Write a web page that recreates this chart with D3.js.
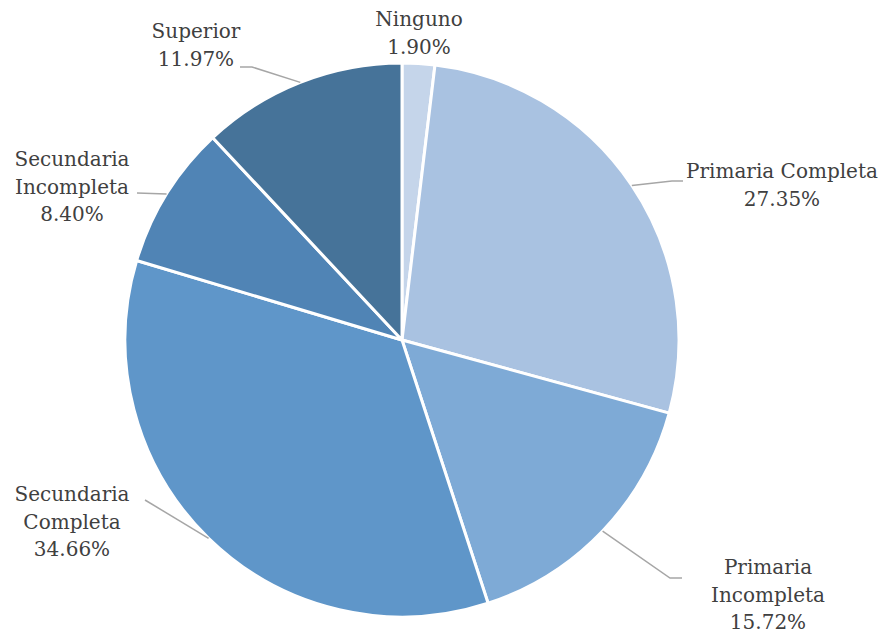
<!DOCTYPE html>
<html>
<head>
<meta charset="utf-8">
<script src="https://cdn.jsdelivr.net/npm/d3@7/dist/d3.min.js"></script>
<style>
  html, body { margin: 0; padding: 0; background: #ffffff; }
  svg { display: block; }
  text { font-family: "DejaVu Serif", "Liberation Serif", serif; fill: #404040; }
</style>
</head>
<body>
<svg id="chart" width="880" height="635"></svg>
<script>
// Education level shares (percent), clockwise from 12 o'clock
const categories = ["Ninguno", "Primaria Completa", "Primaria Incompleta", "Secundaria Completa", "Secundaria Incompleta", "Superior"];
const values = [1.90, 27.35, 15.72, 34.66, 8.40, 11.97];
const valueLabels = ["1.90%", "27.35%", "15.72%", "34.66%", "8.40%", "11.97%"];
const labelLines = [["Ninguno"], ["Primaria Completa"], ["Primaria", "Incompleta"], ["Secundaria", "Completa"], ["Secundaria", "Incompleta"], ["Superior"]];
const colors = ["#c5d5ea", "#a9c2e1", "#7eaad6", "#5f96c9", "#5084b5", "#467399"];

// Label layout: first-line center and the leader's outer bend points
const labelPos = [
  { x: 419, y: 19, leader: null },
  { x: 782, y: 171, leader: [[672, 181], [683, 181]] },
  { x: 768, y: 567, leader: [[670, 578], [682, 578]] },
  { x: 72, y: 494, leader: [[145, 500]] },
  { x: 72, y: 159, leader: [[137, 193]] },
  { x: 196, y: 31, leader: [[252, 67], [240, 67]] }
];

const cx = 402, cy = 340, r = 277;
const svg = d3.select("#chart");
const g = svg.append("g").attr("transform", `translate(${cx},${cy})`);

const pie = d3.pie().sort(null).value(d => d)(values);
const arc = d3.arc().innerRadius(0).outerRadius(r);

g.selectAll("path.slice")
  .data(pie)
  .join("path")
  .attr("class", "slice")
  .attr("d", arc)
  .attr("fill", (d, i) => colors[i])
  .attr("stroke", "#ffffff")
  .attr("stroke-width", 3)
  .attr("stroke-linejoin", "round");

// Leader lines: start on the slice rim at its mid-angle
pie.forEach((d, i) => {
  const lp = labelPos[i];
  if (!lp.leader) return;
  const mid = (d.startAngle + d.endAngle) / 2;
  const start = [cx + r * Math.sin(mid), cy - r * Math.cos(mid)];
  svg.append("path")
    .attr("d", d3.line()([start].concat(lp.leader)))
    .attr("fill", "none")
    .attr("stroke", "#a6a6a6")
    .attr("stroke-width", 1.5);
});

const lineH = 27.5;
categories.forEach((c, i) => {
  const lp = labelPos[i];
  const lines = labelLines[i].concat([valueLabels[i]]);
  const t = svg.append("text")
    .attr("text-anchor", "middle")
    .attr("font-size", 20);
  lines.forEach((s, k) => {
    t.append("tspan")
      .attr("x", lp.x)
      .attr("y", lp.y + k * lineH)
      .attr("dy", "0.35em")
      .text(s);
  });
});
</script>
</body>
</html>
